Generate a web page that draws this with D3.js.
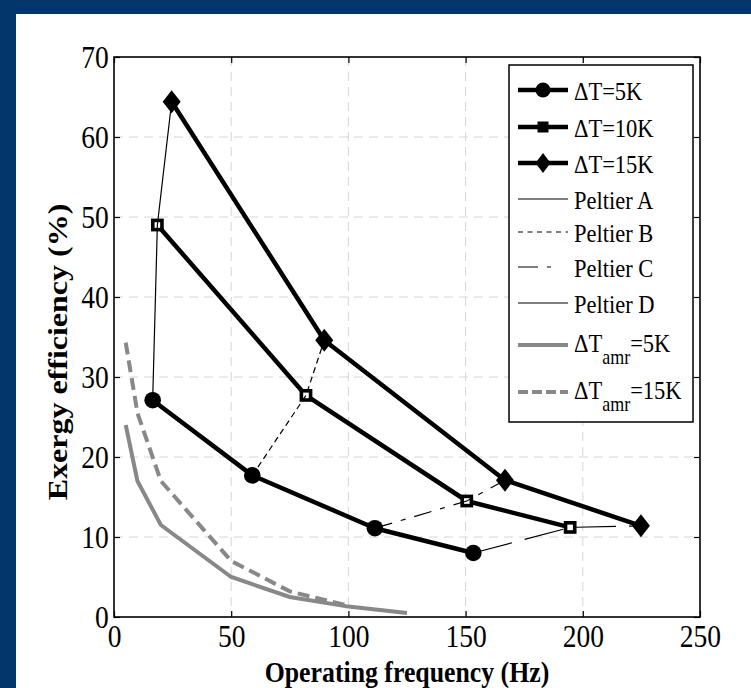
<!DOCTYPE html>
<html>
<head>
<meta charset="utf-8">
<script src="https://cdn.jsdelivr.net/npm/d3@7.9.0/dist/d3.min.js"></script>
<style>
  html, body { margin: 0; padding: 0; background: #fff; }
  svg { display: block; font-family: "Liberation Serif", "Times New Roman", serif; }
</style>
</head>
<body>
<svg width="751" height="688"></svg>
<script>
// operating frequency (Hz) and exergy efficiency (%) per temperature span
const freq5 = [16.5, 59, 111.3, 153.3];
const eff5 = [27.1, 17.7, 11.1, 8.0];
const freq10 = [18.5, 81.9, 150.5, 194.6];
const eff10 = [49.0, 27.7, 14.5, 11.2];
const freq15 = [24.6, 89.7, 166.8, 224.8];
const eff15 = [64.4, 34.6, 17.1, 11.4];

// AMR reference curves (grey)
const amr5Freq = [5, 10, 20, 50, 75, 100, 125];
const amr5Eff = [24, 17, 11.5, 5, 2.5, 1.3, 0.5];
const amr15Freq = [5, 10, 20, 50, 75, 100];
const amr15Eff = [34.3, 25.5, 17, 7, 3.2, 1.4];

const xTicks = [0, 50, 100, 150, 200, 250];
const yTicks = [0, 10, 20, 30, 40, 50, 60, 70];
const peltierNames = ["Peltier A", "Peltier B", "Peltier C", "Peltier D"];

const svg = d3.select("svg");
const SQ = 0.86; // the figure text is narrow

svg.append("rect").attr("x", 0).attr("y", 0).attr("width", 751).attr("height", 14).attr("fill", "#03366a");
svg.append("rect").attr("x", 0).attr("y", 0).attr("width", 16).attr("height", 688).attr("fill", "#03366a");

const x = d3.scaleLinear().domain([0, 250]).range([114, 700]);
const y = d3.scaleLinear().domain([0, 70]).range([617, 57]);

// grid
const grid = svg.append("g").attr("stroke", "#d6d6d6").attr("stroke-width", 1).attr("stroke-dasharray", "9,6");
xTicks.slice(1, -1).forEach(t => {
    grid.append("line").attr("x1", x(t)).attr("x2", x(t)).attr("y1", y(70)).attr("y2", y(0));
});
yTicks.slice(1, -1).forEach(t => {
    grid.append("line").attr("x1", x(0)).attr("x2", x(250)).attr("y1", y(t)).attr("y2", y(t));
});

// axes, ticks pointing inwards
const gx = svg.append("g").attr("transform", `translate(0,${y(0)})`)
    .call(d3.axisBottom(x).tickValues(xTicks).tickSizeInner(-6).tickSizeOuter(0).tickPadding(7.5));
const gy = svg.append("g").attr("transform", `translate(${x(0)},0)`)
    .call(d3.axisLeft(y).tickValues(yTicks).tickSizeInner(-6).tickSizeOuter(0).tickPadding(6));
svg.append("g").attr("transform", `translate(0,${y(70)})`)
    .call(d3.axisTop(x).tickValues(xTicks).tickSizeInner(-6).tickSizeOuter(0).tickFormat(""));
svg.append("g").attr("transform", `translate(${x(250)},0)`)
    .call(d3.axisRight(y).tickValues(yTicks).tickSizeInner(-6).tickSizeOuter(0).tickFormat(""));
svg.selectAll(".domain").remove();
svg.selectAll(".tick line").attr("stroke", "#000").attr("stroke-width", 1.2);
[gx, gy].forEach(g => g.selectAll("text")
    .attr("font-family", "Liberation Serif")
    .attr("font-size", 32)
    .attr("fill", "#000")
    .attr("transform", `scale(${SQ},1)`));

svg.append("rect").attr("x", x(0)).attr("y", y(70))
    .attr("width", x(250) - x(0)).attr("height", y(0) - y(70))
    .attr("fill", "none").attr("stroke", "#000").attr("stroke-width", 1.6);

const line = d3.line().x(d => x(d[0])).y(d => y(d[1]));

// grey AMR curves
svg.append("path").datum(d3.zip(amr5Freq, amr5Eff)).attr("d", line)
    .attr("fill", "none").attr("stroke", "#888").attr("stroke-width", 4);
svg.append("path").datum(d3.zip(amr15Freq, amr15Eff)).attr("d", line)
    .attr("fill", "none").attr("stroke", "#888").attr("stroke-width", 4).attr("stroke-dasharray", "12,6");

// main series
const series = [
    {f: freq5, e: eff5, marker: "circle"},
    {f: freq10, e: eff10, marker: "square"},
    {f: freq15, e: eff15, marker: "diamond"}
];
series.forEach(s => {
    svg.append("path").datum(d3.zip(s.f, s.e)).attr("d", line)
        .attr("fill", "none").attr("stroke", "#000").attr("stroke-width", 4.5).attr("stroke-linejoin", "round");
});

function drawMarker(g, type, cx, cy, big) {
    if (type === "circle") {
        g.append("circle").attr("cx", cx).attr("cy", cy).attr("r", big ? 8.3 : 7.5).attr("fill", "#000");
    } else if (type === "square") {
        if (big) {
            g.append("rect").attr("x", cx - 4.6).attr("y", cy - 4.6).attr("width", 9.2).attr("height", 9.2)
                .attr("fill", "#fff").attr("stroke", "#000").attr("stroke-width", 3.6);
        } else {
            g.append("rect").attr("x", cx - 5.5).attr("y", cy - 5.5).attr("width", 11).attr("height", 11).attr("fill", "#000");
        }
    } else {
        const w = big ? 9 : 7.5, h = big ? 11.5 : 10;
        g.append("path").attr("d", `M${cx},${cy - h}L${cx + w},${cy}L${cx},${cy + h}L${cx - w},${cy}Z`).attr("fill", "#000");
    }
}

const markers = svg.append("g");
series.forEach(s => {
    s.f.forEach((f, i) => drawMarker(markers, s.marker, x(f), y(s.e[i]), true));
});

// Peltier lines join the i-th point of each series
const peltierDash = [null, "6,4", "18,9,5,9", "40,13"];
peltierNames.forEach((name, i) => {
    const pts = series.map(s => [s.f[i], s.e[i]]);
    const p = svg.append("path").datum(pts).attr("d", line)
        .attr("fill", "none").attr("stroke", "#000").attr("stroke-width", 1.2);
    if (peltierDash[i]) p.attr("stroke-dasharray", peltierDash[i]);
});

// legend
const lg = svg.append("g");
lg.append("rect").attr("x", 509).attr("y", 65).attr("width", 184).attr("height", 357)
    .attr("fill", "#fff").attr("stroke", "#000").attr("stroke-width", 1.5);

const rowY = [90, 127, 163, 199, 232, 267, 303, 345, 392];
const legendRows = [
    {label: ["ΔT=5K"], w: 4.5, color: "#000", marker: "circle"},
    {label: ["ΔT=10K"], w: 4.5, color: "#000", marker: "square"},
    {label: ["ΔT=15K"], w: 4.5, color: "#000", marker: "diamond"},
    {label: [peltierNames[0]], w: 1.2, color: "#000"},
    {label: [peltierNames[1]], w: 1.2, color: "#000", dash: "5,4.5"},
    {label: [peltierNames[2]], w: 1.2, color: "#000", dash: "20,9,4,100"},
    {label: [peltierNames[3]], w: 1.2, color: "#000"},
    {label: ["ΔT", "amr", "=5K"], w: 4, color: "#888"},
    {label: ["ΔT", "amr", "=15K"], w: 4, color: "#888", dash: "10,4"}
];
legendRows.forEach((r, i) => {
    const ly = rowY[i];
    const l = lg.append("line").attr("x1", 518).attr("x2", 568).attr("y1", ly).attr("y2", ly)
        .attr("stroke", r.color).attr("stroke-width", r.w);
    if (r.dash) l.attr("stroke-dasharray", r.dash);
    if (r.marker) drawMarker(lg, r.marker, 543, ly, false);
    const base = r.label.length > 1 ? ly + 7 : ly + 9.5;
    const t = lg.append("text").attr("transform", `translate(574,${base}) scale(0.9,1)`)
        .attr("font-size", 25).attr("fill", "#000");
    if (r.label.length === 1) {
        t.text(r.label[0]);
    } else {
        t.append("tspan").text(r.label[0]);
        t.append("tspan").attr("font-size", 20).attr("dy", 11.5).text(r.label[1]);
        t.append("tspan").attr("dy", -11.5).text(r.label[2]);
    }
});

// axis titles
svg.append("text").attr("transform", `translate(407,681.5) scale(${SQ},1)`)
    .attr("text-anchor", "middle").attr("font-weight", "bold").attr("font-size", 30)
    .text("Operating frequency (Hz)");
svg.append("text").attr("transform", `translate(67,352) scale(${SQ},1) rotate(-90)`)
    .attr("text-anchor", "middle").attr("font-weight", "bold").attr("font-size", 32)
    .text("Exergy efficiency (%)");
</script>
</body>
</html>
